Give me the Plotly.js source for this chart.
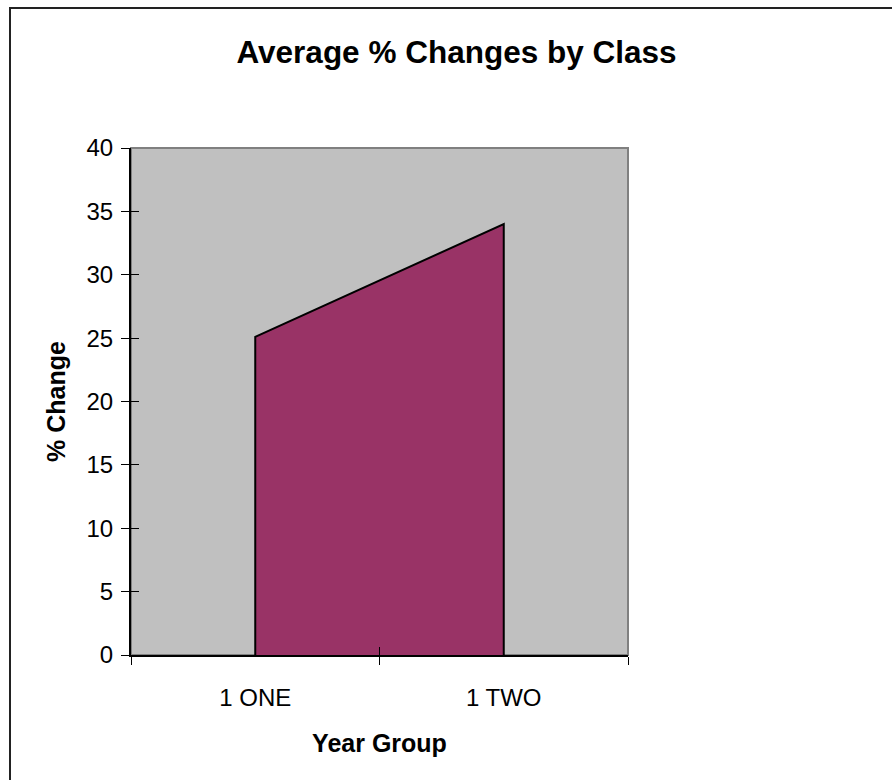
<!DOCTYPE html>
<html>
<head>
<meta charset="utf-8">
<script src="https://cdn.plot.ly/plotly-3.0.1.min.js"></script>
<style>html,body{margin:0;padding:0;background:#fff;}#chart{width:892px;height:780px;}</style>
</head>
<body>
<div id="chart"></div>
<script>
const categories = ["1 ONE", "1 TWO"];
const values = [25.1, 34.0];
const yTicks = [0, 5, 10, 15, 20, 25, 30, 35, 40];
const chartTitle = "Average % Changes by Class";
const xTitle = "Year Group";
const yTitle = "% Change";

const font = "Liberation Sans, Arial, sans-serif";
const W = 892, H = 780, L = 131, R = 264, T = 148, B = 125;
const pw = W - L - R, ph = H - T - B;

const polyX = [categories[0], categories[0], categories[1], categories[1]];
const polyY = [0, values[0], values[1], 0];

const traces = [
  {
    type: "scatter", mode: "lines", x: polyX, y: polyY,
    fill: "toself", fillcolor: "#993366",
    line: {color: "#000000", width: 2},
    hoverinfo: "skip", showlegend: false
  },
  {
    type: "scatter", mode: "lines", x: categories, y: values,
    xaxis: "x2", yaxis: "y2", opacity: 0,
    hoverinfo: "skip", showlegend: false
  }
];

const commonX = {
  type: "category", categoryarray: categories, range: [-0.5, 1.5],
  tickson: "boundaries", ticklen: 8, tickwidth: 1, tickcolor: "#000",
  showgrid: false, zeroline: false, fixedrange: true
};
const commonY = {
  range: [0, 40], tickvals: yTicks, ticklen: 8, tickwidth: 1, tickcolor: "#000",
  showgrid: false, zeroline: false, fixedrange: true
};

const layout = {
  width: W, height: H,
  margin: {l: L, r: R, t: T, b: B, pad: 0},
  paper_bgcolor: "#ffffff", plot_bgcolor: "#C0C0C0",
  font: {family: font, color: "#000", size: 24},
  title: {
    text: "<b>" + chartTitle + "</b>",
    font: {family: font, size: 31.5, color: "#000"},
    xref: "container", yref: "container",
    x: 456.5 / W, xanchor: "center", y: 1 - 52 / H, yanchor: "middle"
  },
  xaxis: Object.assign({}, commonX, {
    ticks: "outside", showline: true, linecolor: "#000", linewidth: 2,
    tickfont: {family: font, size: 24, color: "#000"},
    ticklabelstandoff: 20,
    title: {text: "<b>" + xTitle + "</b>", font: {family: font, size: 25, color: "#000"}, standoff: 25}
  }),
  yaxis: Object.assign({}, commonY, {
    ticks: "outside", showline: true, linecolor: "#000", linewidth: 2,
    tickfont: {family: font, size: 24, color: "#000"},
    ticklabelstandoff: 3,
    title: {text: "<b>" + yTitle + "</b>", font: {family: font, size: 25, color: "#000"}, standoff: 14}
  }),
  xaxis2: Object.assign({}, commonX, {
    overlaying: "x", anchor: "y2", side: "bottom",
    ticks: "inside", showline: false, showticklabels: false
  }),
  yaxis2: Object.assign({}, commonY, {
    overlaying: "y", anchor: "x2", side: "left",
    ticks: "inside", showline: false, showticklabels: false
  }),
  shapes: [
    {type: "rect", xref: "paper", yref: "paper", x0: 0, x1: 1, y0: 0, y1: 1,
     line: {color: "#808080", width: 2}, layer: "below"},
    {type: "rect", xref: "paper", yref: "paper",
     x0: (10 - L) / pw, x1: 3, y0: -3, y1: (H - B - 8) / ph,
     line: {color: "#222222", width: 2}, fillcolor: "rgba(0,0,0,0)", layer: "above"}
  ],
  showlegend: false
};

Plotly.newPlot("chart", traces, layout, {staticPlot: true, displayModeBar: false});
</script>
</body>
</html>
